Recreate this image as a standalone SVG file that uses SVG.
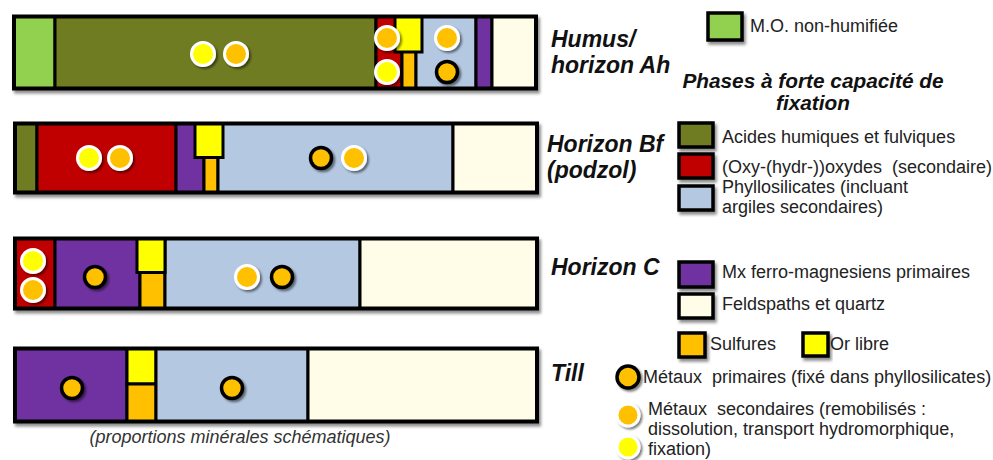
<svg xmlns="http://www.w3.org/2000/svg" width="993" height="460" viewBox="0 0 993 460">
<defs>
<filter id="sh" x="-20%" y="-20%" width="140%" height="160%">
<feDropShadow dx="2" dy="3" stdDeviation="1.5" flood-color="#000" flood-opacity="0.45"/>
</filter>
<filter id="csh" x="-50%" y="-50%" width="200%" height="200%">
<feDropShadow dx="2" dy="2" stdDeviation="1.2" flood-color="#000" flood-opacity="0.5"/>
</filter>
<style>
.s{stroke:#000;stroke-width:3}
.o{fill:none;stroke:#000;stroke-width:4}
.g{fill:#92D050}.ol{fill:#6F7C21}.r{fill:#C00000}.y{fill:#FFFF00}.or{fill:#FFC000}
.b{fill:#B4C8E1}.p{fill:#7030A0}.c{fill:#FFFDE8}
.cw{stroke:#fff;stroke-width:3;filter:url(#csh)}
.cb{stroke:#000;stroke-width:3.5;fill:#FFC000;filter:url(#csh)}
.hl{font-family:"Liberation Sans",Arial,sans-serif;font-weight:bold;font-style:italic;font-size:23px;fill:#111}
.lt{font-family:"Liberation Sans",Arial,sans-serif;font-size:18px;fill:#222}
.sw{stroke:#000;stroke-width:3.5;filter:url(#sh)}
</style>
</defs>

<g id="bar-humus">
<g filter="url(#sh)">
<rect class="s g" x="14" y="16.5" width="41" height="72"/>
<rect class="s ol" x="55" y="16.5" width="321" height="72"/>
<rect class="s r" x="376" y="16.5" width="26" height="72"/>
<rect class="s or" x="402" y="16.5" width="14" height="72"/>
<rect class="s b" x="416" y="16.5" width="60" height="72"/>
<rect class="s p" x="476" y="16.5" width="16" height="72"/>
<rect class="s c" x="492" y="16.5" width="44" height="72"/>
<rect class="s y" x="395" y="16.5" width="27" height="35.5"/>
<rect class="o" x="14" y="16.5" width="522" height="72"/>
</g>
<circle class="cw y" cx="203" cy="54" r="11.5"/>
<circle class="cw or" cx="236" cy="54" r="11.5"/>
<circle class="cw or" cx="387" cy="38" r="11.5"/>
<circle class="cw y" cx="387" cy="72" r="11.5"/>
<circle class="cw or" cx="447" cy="38" r="11.5"/>
<circle class="cb" cx="447" cy="72" r="10.5"/>
</g>

<g id="bar-bf">
<g filter="url(#sh)">
<rect class="s ol" x="15" y="123.5" width="22" height="69"/>
<rect class="s r" x="37" y="123.5" width="139" height="69"/>
<rect class="s p" x="176" y="123.5" width="28" height="69"/>
<rect class="s or" x="204" y="123.5" width="14" height="69"/>
<rect class="s b" x="218" y="123.5" width="235" height="69"/>
<rect class="s c" x="453" y="123.5" width="84" height="69"/>
<rect class="s y" x="195" y="123.5" width="28" height="34"/>
<rect class="o" x="15" y="123.5" width="522" height="69"/>
</g>
<circle class="cw y" cx="89" cy="158" r="11.5"/>
<circle class="cw or" cx="120" cy="158" r="11.5"/>
<circle class="cb" cx="321" cy="158" r="10.5"/>
<circle class="cw or" cx="354" cy="158" r="11.5"/>
</g>

<g id="bar-c">
<g filter="url(#sh)">
<rect class="s r" x="15" y="238.5" width="40" height="70"/>
<rect class="s p" x="55" y="238.5" width="85" height="70"/>
<rect class="s or" x="140" y="238.5" width="25" height="70"/>
<rect class="s b" x="165" y="238.5" width="195" height="70"/>
<rect class="s c" x="360" y="238.5" width="177" height="70"/>
<rect class="s y" x="137" y="238.5" width="28" height="34"/>
<rect class="o" x="15" y="238.5" width="522" height="70"/>
</g>
<circle class="cw y" cx="33" cy="261" r="11.5"/>
<circle class="cw or" cx="33" cy="290" r="11.5"/>
<circle class="cb" cx="95" cy="277" r="10.5"/>
<circle class="cw or" cx="247" cy="277" r="11.5"/>
<circle class="cb" cx="282" cy="277" r="10.5"/>
</g>

<g id="bar-till">
<g filter="url(#sh)">
<rect class="s p" x="15" y="348.5" width="112" height="73"/>
<rect class="s y" x="127" y="348.5" width="29" height="35.5"/>
<rect class="s or" x="127" y="384" width="29" height="37.5"/>
<rect class="s b" x="156" y="348.5" width="152" height="73"/>
<rect class="s c" x="308" y="348.5" width="229" height="73"/>
<rect class="o" x="15" y="348.5" width="522" height="73"/>
</g>
<circle class="cb" cx="72" cy="388" r="10.5"/>
<circle class="cb" cx="232" cy="388" r="10.5"/>
<text x="240" y="443" text-anchor="middle" style="font-family:'Liberation Sans',Arial,sans-serif;font-style:italic;font-size:18px;fill:#333">(proportions minérales schématiques)</text>
</g>

<g id="labels">
<text class="hl" x="551" y="47">Humus/</text>
<text class="hl" x="551" y="73">horizon Ah</text>
<text class="hl" x="547" y="152">Horizon Bf</text>
<text class="hl" x="547" y="178">(podzol)</text>
<text class="hl" x="551" y="275">Horizon C</text>
<text class="hl" x="551" y="381">Till</text>
</g>

<g id="legend">
<rect class="sw g" x="708" y="13" width="34" height="27"/>
<text class="lt" x="750" y="32">M.O. non-humifiée</text>
<text x="813" y="88" text-anchor="middle" style="font-family:'Liberation Sans',Arial,sans-serif;font-weight:bold;font-style:italic;font-size:20.8px;fill:#111">Phases à forte capacité de</text>
<text x="813" y="110" text-anchor="middle" style="font-family:'Liberation Sans',Arial,sans-serif;font-weight:bold;font-style:italic;font-size:20.8px;fill:#111">fixation</text>
<rect class="sw ol" x="679" y="123" width="34" height="24"/>
<text class="lt" x="722" y="143">Acides humiques et fulviques</text>
<rect class="sw r" x="679" y="154" width="34" height="24"/>
<text class="lt" x="722" y="173" xml:space="preserve">(Oxy-(hydr-))oxydes  (secondaire)</text>
<rect class="sw b" x="679" y="186" width="34" height="24"/>
<text class="lt" x="722" y="193">Phyllosilicates (incluant</text>
<text class="lt" x="722" y="213">argiles secondaires)</text>
<rect class="sw p" x="679" y="262" width="34" height="25"/>
<text class="lt" x="722" y="278" xml:space="preserve">Mx ferro-magnesiens primaires</text>
<rect class="sw c" x="679" y="294" width="34" height="24"/>
<text class="lt" x="722" y="310">Feldspaths et quartz</text>
<rect class="sw or" x="679" y="333" width="26" height="24"/>
<text class="lt" x="710" y="350">Sulfures</text>
<rect class="sw y" x="803" y="333" width="25" height="23"/>
<text class="lt" x="830" y="350">Or libre</text>
<circle class="cb" cx="628" cy="377" r="11"/>
<text class="lt" x="643" y="383" xml:space="preserve">Métaux  primaires (fixé dans phyllosilicates)</text>
<circle class="cw or" cx="628" cy="415" r="11"/>
<circle class="cw y" cx="628" cy="447" r="11"/>
<text class="lt" x="648" y="415" xml:space="preserve">Métaux  secondaires (remobilisés :</text>
<text class="lt" x="648" y="435">dissolution, transport hydromorphique,</text>
<text class="lt" x="648" y="455">fixation)</text>
</g>
</svg>
